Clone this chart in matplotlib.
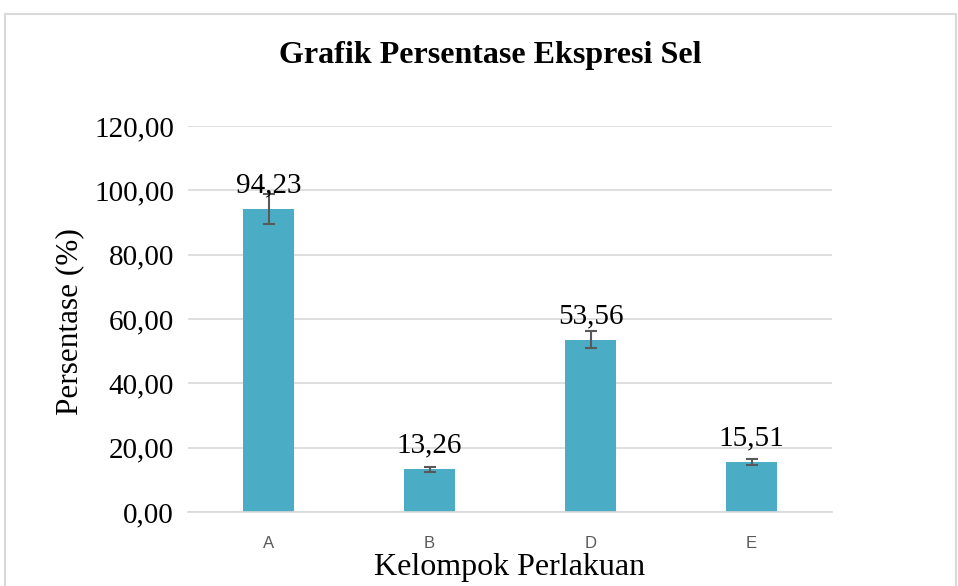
import matplotlib
matplotlib.use("Agg")
import matplotlib.pyplot as plt
from matplotlib.patches import Rectangle

categories = ["A", "B", "D", "E"]
values = [94.23, 13.26, 53.56, 15.51]
errors = [4.7, 0.7, 2.7, 0.9]
yticks = [0, 20, 40, 60, 80, 100, 120]
ytick_labels = ["0,00", "20,00", "40,00", "60,00", "80,00", "100,00", "120,00"]
value_labels = ["94,23", "13,26", "53,56", "15,51"]

fig = plt.figure(figsize=(9.58, 5.86), dpi=100)
ax = fig.add_axes([188/958, 1-512/586, (832-188)/958, (512-126)/586])

fig.patches.append(Rectangle((5/958, -0.1), (956-5)/958, 1.1-14/586,
                             transform=fig.transFigure, fill=False,
                             edgecolor="#d9d9d9", linewidth=1.5))

x = list(range(len(categories)))
ax.bar(x, values, width=0.32, color="#4BACC6", zorder=2)
ax.errorbar(x, values, yerr=errors, fmt="none", ecolor="#595959",
            elinewidth=1.5, capsize=4.5, capthick=1.5, zorder=3)
for xi, v, lab in zip(x, values, value_labels):
    ax.annotate(lab, (xi, v), xytext=(0, 12), textcoords="offset points",
                ha="center", va="baseline", family="Liberation Serif",
                fontsize=21, color="black", zorder=4)

ax.set_xlim(-0.5, len(categories) - 0.5)
ax.set_ylim(0, 120)
ax.set_yticks(yticks)
ax.set_yticklabels(ytick_labels, family="Liberation Serif", fontsize=21)
ax.set_xticks(x)
ax.set_xticklabels(categories, family="Liberation Sans", fontsize=12, color="#595959")
ax.tick_params(axis="both", length=0)
ax.tick_params(axis="y", pad=10)
ax.tick_params(axis="x", pad=17)
ax.yaxis.grid(True, color="#d9d9d9", linewidth=1.2, zorder=0)
ax.set_axisbelow(True)
for s in ["top", "right", "left"]:
    ax.spines[s].set_visible(False)
ax.spines["bottom"].set_color("#d9d9d9")
ax.spines["bottom"].set_linewidth(1.2)

fig.text(490/958, 1-55/586, "Grafik Persentase Ekspresi Sel", ha="center", va="center",
         family="Liberation Serif", fontsize=23, fontweight="bold")
fig.text(70/958, 1-322/586, "Persentase (%)", ha="center", va="center", rotation=90,
         family="Liberation Serif", fontsize=22.5)
fig.text(510/958, 1-568/586, "Kelompok Perlakuan", ha="center", va="center",
         family="Liberation Serif", fontsize=23)

fig.savefig("out.png", dpi=100)
